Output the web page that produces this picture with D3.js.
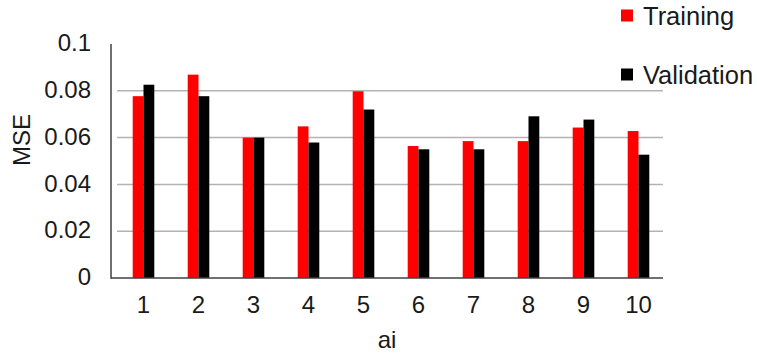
<!DOCTYPE html>
<html>
<head>
<meta charset="utf-8">
<script src="https://cdn.jsdelivr.net/npm/d3@7/dist/d3.min.js"></script>
<style>
  html, body { margin: 0; padding: 0; background: #fff; }
  svg { display: block; font-family: "Liberation Sans", Arial, sans-serif; }
</style>
</head>
<body>
<svg id="chart" width="757" height="356"></svg>
<script>
const categories = ["1", "2", "3", "4", "5", "6", "7", "8", "9", "10"];
const training = [0.0777, 0.0869, 0.0600, 0.0648, 0.0798, 0.0564, 0.0585, 0.0585, 0.0643, 0.0628];
const validation = [0.0826, 0.0777, 0.0600, 0.0579, 0.0720, 0.0550, 0.0550, 0.0691, 0.0677, 0.0527];
const seriesNames = ["Training", "Validation"];
const seriesColors = ["#ff0000", "#000000"];
const yTicks = [0, 0.02, 0.04, 0.06, 0.08, 0.1];
const xTitle = "ai";
const yTitle = "MSE";

const svg = d3.select("#chart");
const axisLeftX = 111, axisRightX = 663;
const y = d3.scaleLinear().domain([0, 0.1]).range([278, 44]);
const x = d3.scaleBand().domain(categories).range([116, 666]).paddingInner(0).paddingOuter(0);
const barW = 10.8;
const textColor = "#1a1a1a";
const fs = 24;

// gridlines (no line at top value)
svg.append("g").selectAll("line").data(yTicks.filter(d => d > 0 && d < 0.1)).join("line")
  .attr("x1", 117).attr("x2", axisRightX)
  .attr("y1", d => y(d)).attr("y2", d => y(d))
  .attr("stroke", "#b3b3b3").attr("stroke-width", 1.5);

// bars
const data = categories.map((c, i) => ({c, vals: [training[i], validation[i]]}));
const groups = svg.append("g").selectAll("g").data(data).join("g");
groups.selectAll("rect").data(d => d.vals.map((v, k) => ({c: d.c, v, k}))).join("rect")
  .attr("x", d => x(d.c) + x.bandwidth() / 2 - barW + d.k * barW)
  .attr("width", barW)
  .attr("y", d => y(d.v))
  .attr("height", d => y(0) - y(d.v))
  .attr("fill", d => seriesColors[d.k]);

// axis lines
svg.append("line").attr("x1", axisLeftX).attr("x2", axisLeftX).attr("y1", y(0.1)).attr("y2", y(0) + 0.75)
  .attr("stroke", "#404040").attr("stroke-width", 1.5);
svg.append("line").attr("x1", axisLeftX).attr("x2", axisRightX).attr("y1", y(0)).attr("y2", y(0))
  .attr("stroke", "#404040").attr("stroke-width", 1.5);

// y tick labels
const yAxis = d3.axisLeft(y).tickValues(yTicks).tickSize(0).tickPadding(0).tickFormat(d3.format("~g"));
const yg = svg.append("g").attr("transform", "translate(91,-1)").call(yAxis);
yg.select(".domain").remove();
yg.selectAll("text").attr("font-size", fs).attr("font-family", "Liberation Sans, Arial, sans-serif").attr("fill", textColor);

// x tick labels
const xAxis = d3.axisBottom(x).tickSize(0).tickPadding(0);
const xg = svg.append("g").attr("transform", "translate(0,296)").call(xAxis);
xg.select(".domain").remove();
xg.selectAll("text").attr("font-size", fs).attr("font-family", "Liberation Sans, Arial, sans-serif").attr("fill", textColor);

// axis titles
svg.append("text").attr("x", (axisLeftX + axisRightX) / 2).attr("y", 348)
  .attr("text-anchor", "middle").attr("font-size", fs).attr("fill", textColor).text(xTitle);
svg.append("text").attr("transform", "translate(30,140) rotate(-90)")
  .attr("text-anchor", "middle").attr("font-size", fs).attr("fill", textColor).text(yTitle);

// legend
const legendY = [16, 75];
seriesNames.forEach((n, i) => {
  svg.append("rect").attr("x", 621).attr("y", legendY[i] - 6.5).attr("width", 12).attr("height", 12).attr("fill", seriesColors[i]);
  svg.append("text").attr("x", 643).attr("y", legendY[i]).attr("dy", "0.35em")
    .attr("font-size", 25.5).attr("fill", textColor).text(n);
});
</script>
</body>
</html>
